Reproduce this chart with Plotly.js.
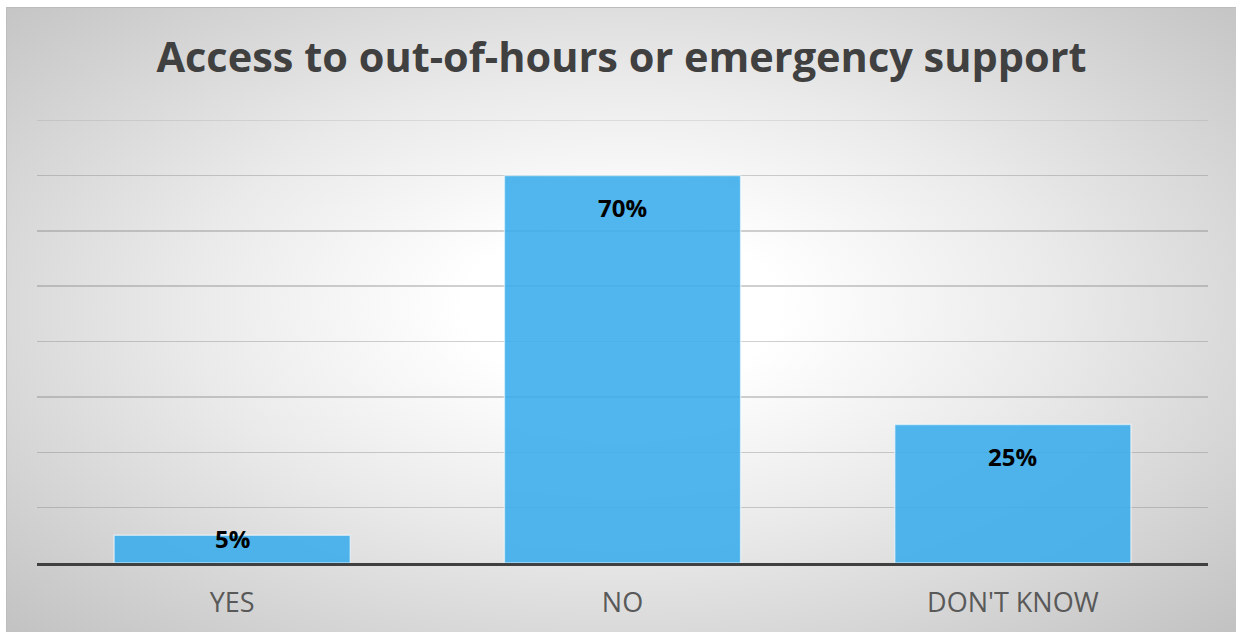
<!DOCTYPE html>
<html>
<head>
<meta charset="utf-8">
<script src="https://cdn.plot.ly/plotly-3.0.1.min.js"></script>
<style>
  html, body { margin: 0; padding: 0; background: #ffffff; }
  #chart {
    position: absolute;
    left: 6px; top: 7px;
    width: 1229px; height: 624px;
    border: 1px solid #bdbdbd;
    border-right: none; border-bottom: none;
    background: radial-gradient(ellipse farthest-corner at 50% 48%, #ffffff 0%, #ffffff 18%, #eaeaea 50%, #c2c2c2 100%);
  }
</style>
</head>
<body>
<div id="chart"></div>
<script>
// Survey answers and their shares
const categories = ["YES", "NO", "DON'T KNOW"];
const shares = [0.05, 0.70, 0.25];
const labels = ["5%", "70%", "25%"];

const yMax = 0.8;
const plotTop = 112, plotBottom = 69, figH = 624;
const pxPerUnit = (figH - plotTop - plotBottom) / yMax;

// Value labels sit inside the bar end, kept clear of the axis for short bars
const annotations = categories.map((c, i) => ({
  x: c,
  y: shares[i],
  xref: 'x', yref: 'y',
  text: labels[i],
  showarrow: false,
  yanchor: 'middle',
  yshift: -Math.min(32, shares[i] * pxPerUnit - 24),
  font: { family: 'Open Sans, sans-serif', size: 24, color: '#000000', weight: 700 }
}));

const trace = {
  type: 'bar',
  x: categories,
  y: shares,
  marker: {
    color: 'rgba(56,172,234,0.88)',
    line: { color: 'rgba(255,255,255,0.55)', width: 1.5 }
  },
  hoverinfo: 'skip'
};

const layout = {
  width: 1229,
  height: 624,
  paper_bgcolor: 'rgba(0,0,0,0)',
  plot_bgcolor: 'rgba(0,0,0,0)',
  margin: { l: 30, r: 28, t: plotTop, b: plotBottom },
  bargap: 0.395,
  showlegend: false,
  title: {
    text: 'Access to out-of-hours or emergency support',
    x: 0.5, xanchor: 'center',
    y: 0.92, yanchor: 'middle',
    font: { family: 'Open Sans, sans-serif', size: 41.5, color: '#404040', weight: 700 }
  },
  xaxis: {
    type: 'category',
    showline: true,
    linecolor: '#404040',
    linewidth: 3,
    showgrid: false,
    ticks: '',
    ticklabelstandoff: 14,
    tickfont: { family: 'Open Sans, sans-serif', size: 27, color: '#595959' },
    fixedrange: true
  },
  yaxis: {
    range: [0, yMax],
    dtick: 0.1,
    showticklabels: false,
    showgrid: true,
    gridcolor: 'rgba(120,120,120,0.35)',
    gridwidth: 1.5,
    zeroline: false,
    fixedrange: true
  },
  // top gridline at the edge of the value range
  shapes: [{
    type: 'line', layer: 'below',
    xref: 'paper', x0: 0, x1: 1,
    yref: 'y', y0: yMax, y1: yMax,
    line: { color: 'rgba(120,120,120,0.22)', width: 1.5 }
  }],
  annotations: annotations
};

Plotly.newPlot('chart', [trace], layout, { displayModeBar: false, staticPlot: true });
</script>
</body>
</html>
